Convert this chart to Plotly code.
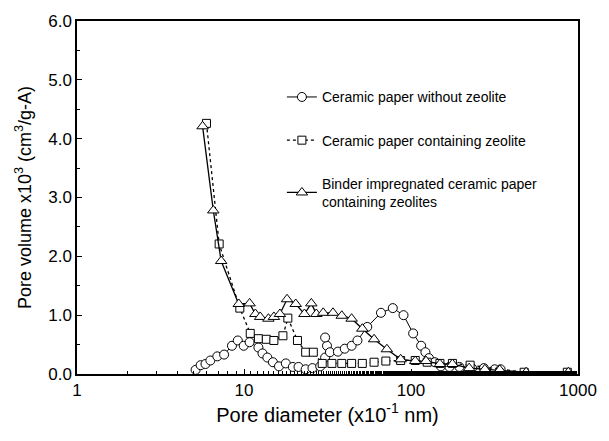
import plotly.graph_objects as go

# Ceramic paper without zeolite (circles)
circ_x = [5.13, 5.50, 5.88, 6.29, 6.92, 7.60, 8.47, 9.18, 9.96, 10.8, 12.2, 12.9, 13.8, 14.9,
          16.2, 17.8, 19.6, 21.2, 23.4, 25.7, 28.6, 30.6, 31.4, 30.6, 32.7, 36.5, 40.1, 44.1,
          47.8, 54.7, 66.1, 77.8, 90.2, 103, 115, 122, 128, 139, 151, 170, 195, 232, 273, 317, 344]
circ_y = [0.07, 0.15, 0.17, 0.23, 0.30, 0.33, 0.48, 0.57, 0.48, 0.54, 0.45, 0.35, 0.28, 0.20,
          0.13, 0.18, 0.12, 0.12, 0.08, 0.10, 0.13, 0.28, 0.48, 0.62, 0.37, 0.38, 0.43, 0.48,
          0.57, 0.80, 1.04, 1.12, 1.00, 0.69, 0.48, 0.37, 0.27, 0.20, 0.13, 0.12, 0.12, 0.10, 0.10, 0.08, 0.08]

# Ceramic paper containing zeolite (squares)
sq_x = [5.96, 7.1, 9.44, 10.9, 12.2, 13.6, 15.1, 17.1, 18.3, 20.9, 23.4, 26.0, 29.4, 33.6,
        38.5, 44.1, 51.1, 60.1, 70.7, 86.7, 106, 125, 149, 177, 226, 476, 863]
sq_y = [4.26, 2.21, 1.12, 0.69, 0.60, 0.59, 0.57, 0.65, 0.95, 0.57, 0.37, 0.37, 0.18, 0.18,
        0.18, 0.18, 0.18, 0.20, 0.22, 0.23, 0.23, 0.20, 0.18, 0.18, 0.15, 0.03, 0.03]

# Binder impregnated ceramic paper containing zeolites (triangles)
tri_x = [5.65, 6.55, 7.3, 9.3, 10.8, 11.7, 12.5, 14.0, 15.1, 16.4, 18.1, 20.4, 23.0, 25.3,
         27.1, 29.8, 34.1, 38.5, 44.1, 51.1, 60.1, 71.7, 86.7, 106, 123, 149, 177, 223, 277,
         340, 489, 875]
tri_y = [4.21, 2.78, 1.92, 1.19, 1.20, 1.02, 0.97, 0.94, 0.97, 1.02, 1.27, 1.19, 1.02, 1.20,
         1.02, 1.04, 1.04, 0.99, 0.94, 0.77, 0.59, 0.42, 0.25, 0.22, 0.22, 0.17, 0.17, 0.10,
         0.08, 0.07, 0.03, 0.03]

names = ["Ceramic paper without zeolite",
         "Ceramic paper containing zeolite",
         "Binder impregnated ceramic paper<br>containing zeolites"]

FONT = "Liberation Sans, Arial, sans-serif"
fig = go.Figure()
fig.add_trace(go.Scatter(x=circ_x, y=circ_y, name=names[0], mode="lines+markers",
                         line=dict(color="black", width=1),
                         marker=dict(symbol="circle", size=9, color="white",
                                     line=dict(color="black", width=1)),
                         legendgroup="a"))
fig.add_trace(go.Scatter(x=sq_x, y=sq_y, name=names[1], mode="lines+markers",
                         line=dict(color="black", width=1.3, dash="dot"),
                         marker=dict(symbol="square", size=8, color="white",
                                     line=dict(color="black", width=1)),
                         legendgroup="b"))
fig.add_trace(go.Scatter(x=tri_x, y=tri_y, name=names[2], mode="lines+markers",
                         line=dict(color="black", width=1.3),
                         marker=dict(symbol="triangle-up", size=10, color="white",
                                     line=dict(color="black", width=1)),
                         legendgroup="c"))

fig.update_layout(
    width=609, height=441,
    margin=dict(l=77, r=21, t=15, b=67),
    paper_bgcolor="white", plot_bgcolor="white",
    font=dict(family=FONT, color="black", size=14),
    legend=dict(x=0.409, y=0.829, xanchor="left", yanchor="top",
                bgcolor="rgba(0,0,0,0)", font=dict(size=14, family=FONT),
                tracegroupgap=22, itemwidth=30),
    showlegend=True,
)
fig.update_xaxes(type="log", range=[0, 3], showline=True, linecolor="black", linewidth=1.5,
                 mirror=True, ticks="inside", ticklen=5, tickcolor="black",
                 tickvals=[1, 10, 100, 1000], ticktext=["1", "10", "100", "1000"],
                 minor=dict(ticks="inside", ticklen=3, tickcolor="black", showgrid=False),
                 showgrid=False, zeroline=False, tickfont=dict(size=17),
                 title=dict(text="Pore diameter (x10<sup>-1</sup> nm)", font=dict(size=20), standoff=7))
fig.update_yaxes(range=[0, 6], showline=True, linecolor="black", linewidth=1.5, mirror=True,
                 ticks="inside", ticklen=5, tickcolor="black", dtick=1, tickformat=".1f",
                 minor=dict(ticks="inside", ticklen=3, dtick=0.5, tickcolor="black", showgrid=False),
                 showgrid=False, zeroline=False, tickfont=dict(size=17),
                 title=dict(text="Pore volume x10<sup>3</sup> (cm<sup>3</sup>/g-A)", font=dict(size=18), standoff=12))

fig.write_html("out.html")
